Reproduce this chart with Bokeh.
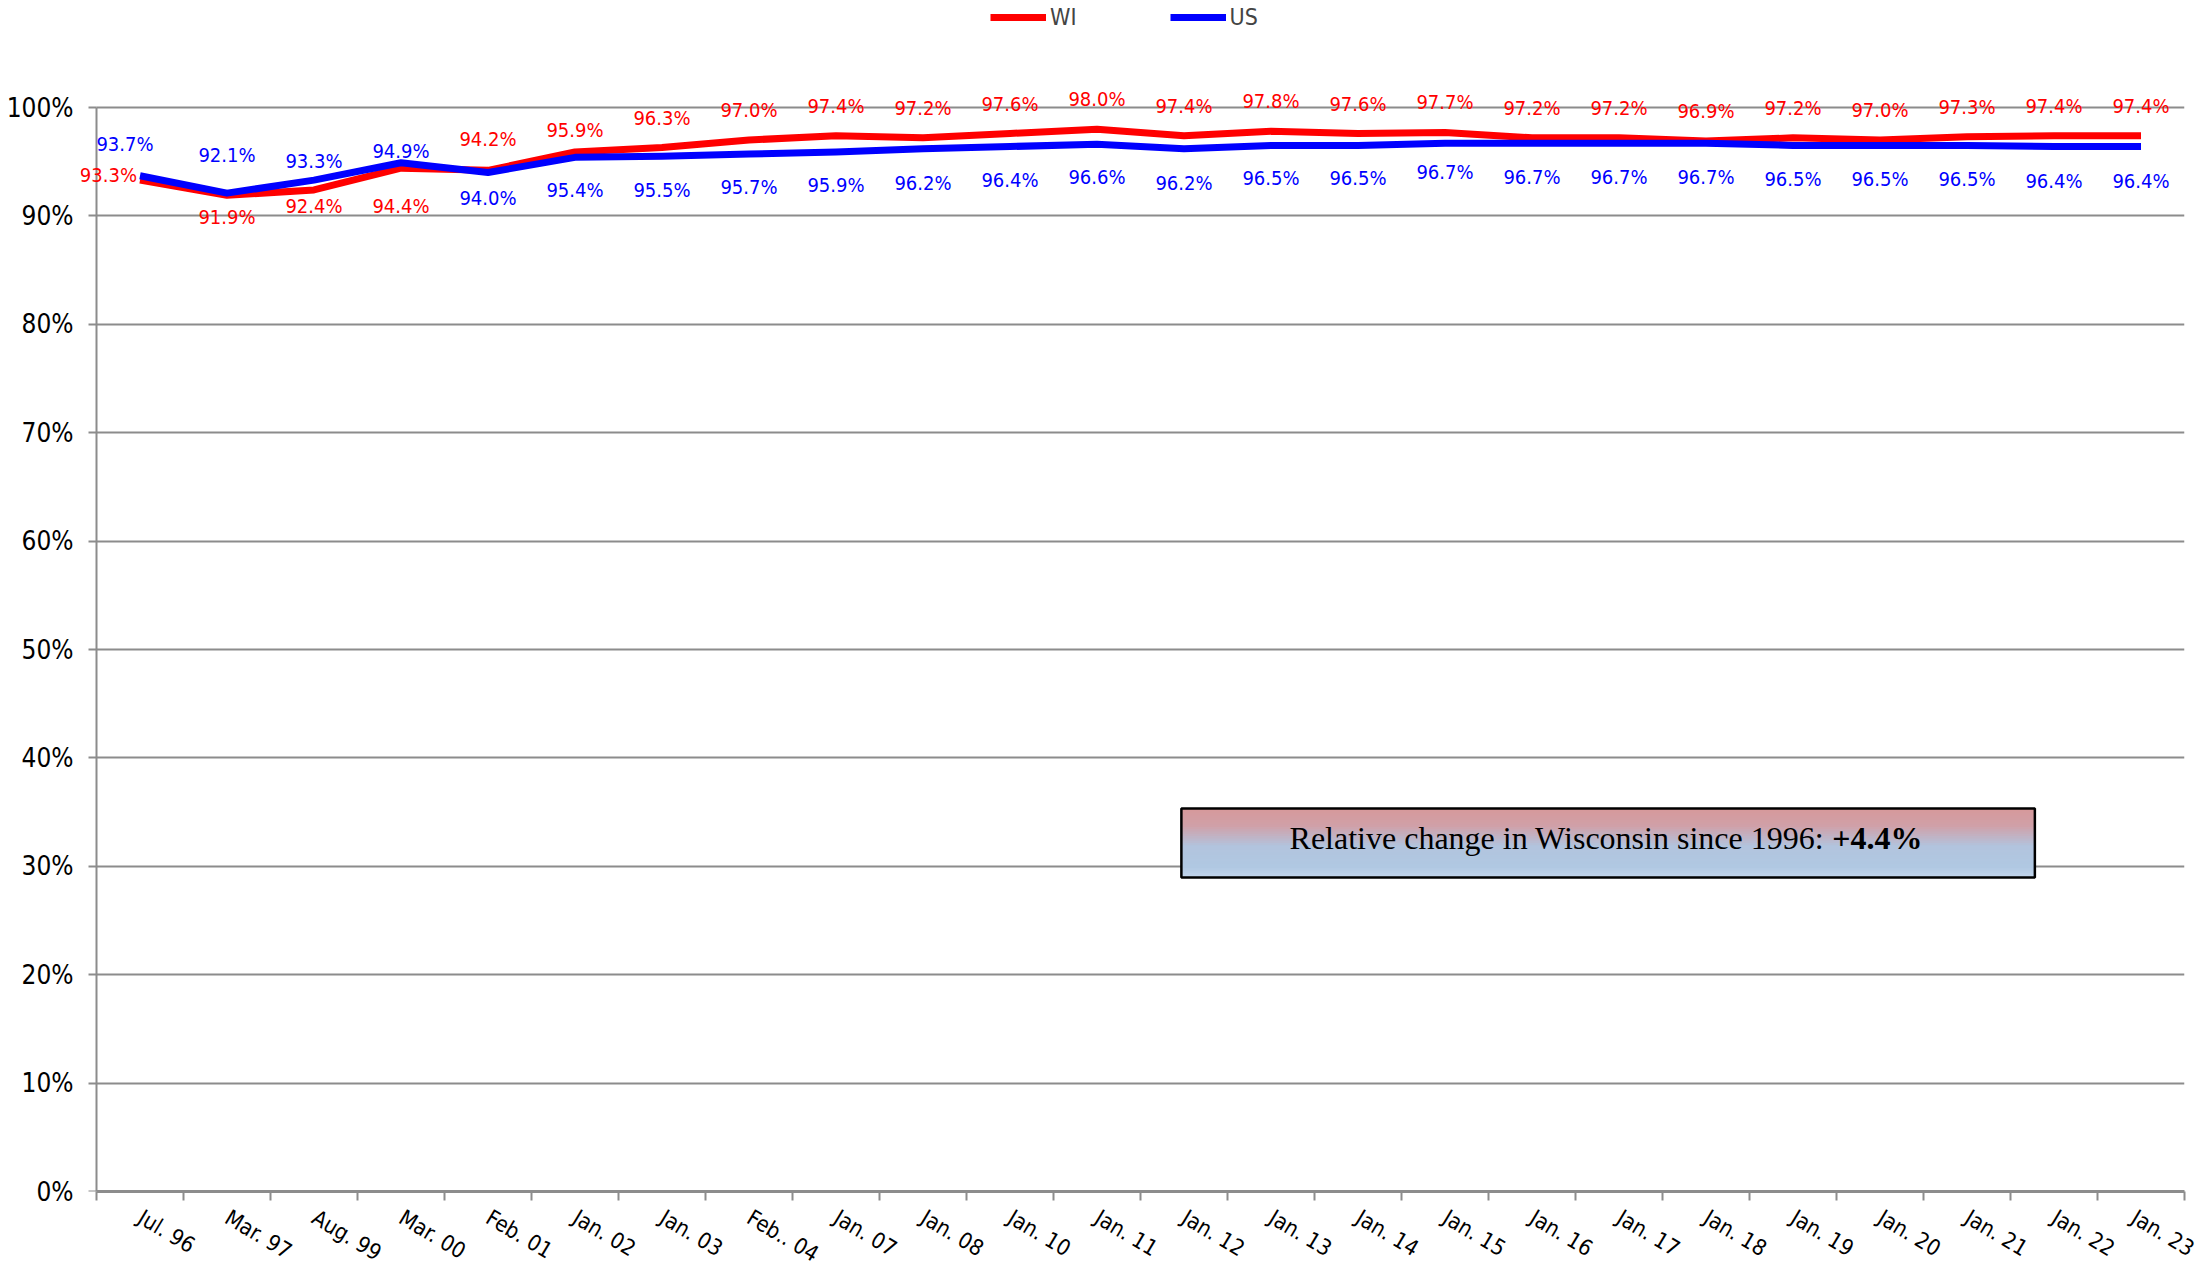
from bokeh.plotting import figure
from bokeh.models import (ColumnDataSource, FixedTicker, Legend, LegendItem,
                          BoxAnnotation, Label, LabelSet, Range1d, Grid, LinearAxis)
from bokeh.core.properties import value
from bokeh.embed import file_html
from bokeh.resources import INLINE

# ---------------- data ----------------
categories = ["Jul. 96", "Mar. 97", "Aug. 99", "Mar. 00", "Feb. 01", "Jan. 02",
              "Jan. 03", "Feb.. 04", "Jan. 07", "Jan. 08", "Jan. 10", "Jan. 11",
              "Jan. 12", "Jan. 13", "Jan. 14", "Jan. 15", "Jan. 16", "Jan. 17",
              "Jan. 18", "Jan. 19", "Jan. 20", "Jan. 21", "Jan. 22", "Jan. 23"]
wi = [93.3, 91.9, 92.4, 94.4, 94.2, 95.9, 96.3, 97.0, 97.4, 97.2, 97.6, 98.0,
      97.4, 97.8, 97.6, 97.7, 97.2, 97.2, 96.9, 97.2, 97.0, 97.3, 97.4, 97.4]
us = [93.7, 92.1, 93.3, 94.9, 94.0, 95.4, 95.5, 95.7, 95.9, 96.2, 96.4, 96.6,
      96.2, 96.5, 96.5, 96.7, 96.7, 96.7, 96.7, 96.5, 96.5, 96.5, 96.4, 96.4]
y_ticks = [0, 10, 20, 30, 40, 50, 60, 70, 80, 90, 100]
series_names = ["WI", "US"]
note_text = "Relative change in Wisconsin since 1996: "
note_value = "+4.4%"

# ---------------- label placement (style, pixels, up = positive) ----------------
wi_dy = [5, -22, -16, -38, 31, 22] + [30] * 18
wi_dx = [-3] + [0] * 23
wi_align = ["right"] + ["center"] * 23
us_dy = [32, 38, 19, 12, -25, -33, -34, -33, -33, -34, -33, -33, -34, -33, -33,
         -29, -34, -34, -34, -34, -34, -34, -34, -34]
us_dx = [-15] + [0] * 23

RED = "#ff0000"
BLUE = "#0000ff"
GRID = "#8c8c8c"
FONT = "Liberation Sans Narrow, DejaVu Sans Condensed, sans-serif"

n = len(categories)
xs = [i + 0.5 for i in range(n)]

# layout in pixels: plot area 2088 x 1084, its top-left at (96, 107)
PX_X = 2088 / n            # pixels per category
PX_Y = 1084 / 100.0        # pixels per percent
LEFT_PAD = 16              # extra frame room left of the y axis
TOP_PAD = 107              # frame reaches the top of the canvas

src = ColumnDataSource(dict(
    x=xs, wi=wi, us=us,
    wi_lbl=[f"{v:.1f}%" for v in wi], us_lbl=[f"{v:.1f}%" for v in us],
    wi_dy=wi_dy, wi_dx=wi_dx, wi_align=wi_align, us_dy=us_dy, us_dx=us_dx,
))

p = figure(frame_width=2088 + LEFT_PAD, frame_height=1084 + TOP_PAD,
           min_border_left=96 - LEFT_PAD, min_border_right=14,
           min_border_top=0, min_border_bottom=72,
           x_range=Range1d(-LEFT_PAD / PX_X, n),
           y_range=Range1d(0, 100 + TOP_PAD / PX_Y),
           output_backend="svg", toolbar_location=None,
           background_fill_color="white", border_fill_color="white")
p.outline_line_color = None

# grid
p.xgrid.grid_line_color = None
p.ygrid.grid_line_color = GRID
p.ygrid.grid_line_width = 2
p.ygrid.ticker = FixedTicker(ticks=y_ticks)
if "cross_bounds" in Grid.properties():
    p.ygrid.cross_bounds = (0, n)

# y axis labels (panel next to the frame, no line / ticks)
yax = p.yaxis[0]
yax.ticker = FixedTicker(ticks=y_ticks)
yax.major_label_overrides = {t: f"{t}%" for t in y_ticks}
yax.axis_line_color = None
yax.major_tick_line_color = None
yax.major_tick_out = 0
yax.major_tick_in = 0
yax.minor_tick_line_color = None
yax.major_label_text_font = FONT
yax.major_label_text_font_size = "26px"
yax.major_label_text_color = "black"
yax.major_label_standoff = 7

# y axis line and ticks, drawn at x = 0 from 0% to 100%
yline = LinearAxis(ticker=FixedTicker(ticks=y_ticks), fixed_location=0,
                   bounds=(0, 100), axis_line_color=GRID, axis_line_width=2,
                   major_tick_line_color=GRID, major_tick_line_width=2,
                   major_tick_out=8, major_tick_in=0, minor_tick_line_color=None,
                   major_label_text_color=None, major_label_text_font_size="1px",
                   major_label_standoff=0)
p.add_layout(yline, "left")

# x axis: labels at category centres, tick marks at boundaries
p.xaxis.bounds = (0, n)
p.xaxis.ticker = FixedTicker(ticks=xs, minor_ticks=list(range(n + 1)))
p.xaxis.major_label_overrides = {x: c for x, c in zip(xs, categories)}
p.xaxis.axis_line_color = GRID
p.xaxis.axis_line_width = 3
p.xaxis.major_tick_line_color = None
p.xaxis.minor_tick_line_color = GRID
p.xaxis.minor_tick_line_width = 2
p.xaxis.minor_tick_out = 9
p.xaxis.minor_tick_in = 0
p.xaxis.major_label_orientation = -0.54
p.xaxis.major_label_text_font = FONT
p.xaxis.major_label_text_font_size = "22px"
p.xaxis.major_label_text_color = "black"
p.xaxis.major_label_standoff = 15

# lines
r_wi = p.line("x", "wi", source=src, line_color=RED, line_width=7, line_join="round")
r_us = p.line("x", "us", source=src, line_color=BLUE, line_width=7, line_join="round")

# data labels
p.add_layout(LabelSet(x="x", y="wi", text="wi_lbl", source=src, text_color=RED,
                      text_font=value(FONT), text_font_size="20px",
                      text_align="wi_align", text_baseline="middle",
                      x_offset="wi_dx", y_offset="wi_dy"))
p.add_layout(LabelSet(x="x", y="us", text="us_lbl", source=src, text_color=BLUE,
                      text_font=value(FONT), text_font_size="20px",
                      text_align="center", text_baseline="middle",
                      x_offset="us_dx", y_offset="us_dy"))

# legend
legend = Legend(items=[LegendItem(label=series_names[0], renderers=[r_wi]),
                       LegendItem(label=series_names[1], renderers=[r_us])],
                orientation="horizontal", location=(894 + LEFT_PAD, 1161),
                glyph_width=56, glyph_height=22, label_standoff=4, spacing=93,
                padding=0, margin=0, border_line_color=None,
                background_fill_alpha=0,
                label_text_font=FONT, label_text_font_size="23px",
                label_height=22)
p.add_layout(legend, "center")

# annotation box with vertical gradient
bx0, bx1 = 12.47, 22.28
by0, by1 = 28.97, 35.33
stops = [(0.0, (214, 152, 154)), (0.25, (208, 160, 168)),
         (0.55, (178, 196, 222)), (0.85, (176, 200, 226)), (1.0, (196, 214, 236))]


def grad(t):
    for (t0, c0), (t1, c1) in zip(stops[:-1], stops[1:]):
        if t0 <= t <= t1:
            f = (t - t0) / (t1 - t0)
            return tuple(int(round(a + (b - a) * f)) for a, b in zip(c0, c1))
    return stops[-1][1]


nstrip = 30
h = (by1 - by0) / nstrip
for k in range(nstrip):
    top = by1 - k * h
    c = grad((k + 0.5) / nstrip)
    p.add_layout(BoxAnnotation(left=bx0, right=bx1, top=top, bottom=by0,
                               fill_color="#%02x%02x%02x" % c, fill_alpha=1,
                               line_color=None, level="annotation"))
p.add_layout(BoxAnnotation(left=bx0, right=bx1, top=by1, bottom=by0,
                           fill_alpha=0, fill_color=None, line_color="black",
                           line_alpha=1, line_width=2.5, level="annotation"))
anchor_x = 19.95
anchor_y = 32.6
p.add_layout(Label(x=anchor_x, y=anchor_y, text=note_text, text_align="right",
                   text_baseline="middle", text_font="Liberation Serif",
                   text_font_size="32px", text_color="black"))
p.add_layout(Label(x=anchor_x, y=anchor_y, text=note_value, text_align="left",
                   text_baseline="middle", text_font="Liberation Serif",
                   text_font_style="bold", text_font_size="32px", text_color="black"))

open("out.html", "w").write(file_html(p, INLINE))
